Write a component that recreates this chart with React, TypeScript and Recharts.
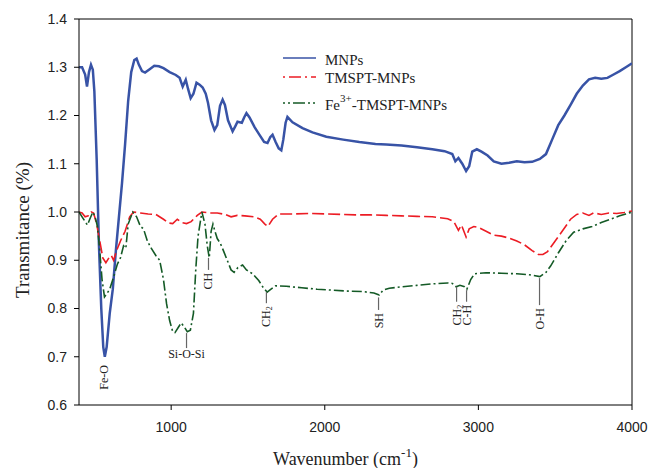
import React from 'react';
import { LineChart, Line, XAxis, YAxis, ReferenceLine, Legend } from 'recharts';

// FTIR spectra: wavenumber (cm-1) and transmittance for each sample
const mnpWavenumber = [
  400, 420, 440, 452, 465, 478, 490, 500, 515, 530, 545, 558, 568, 580, 600, 620, 640, 660, 680, 700,
  720, 740, 760, 775, 790, 810, 830, 860, 890, 920, 950, 990, 1030, 1055, 1075, 1095, 1110, 1127, 1145, 1165,
  1185, 1205, 1225, 1240, 1260, 1282, 1300, 1318, 1335, 1350, 1370, 1400, 1418, 1432, 1460, 1475, 1490, 1510, 1543, 1575,
  1605, 1627, 1645, 1660, 1680, 1700, 1717, 1730, 1745, 1757, 1790, 1855, 1920, 2010, 2120, 2225, 2330, 2400, 2500, 2600,
  2700, 2780, 2830, 2850, 2870, 2895, 2920, 2940, 2960, 2990, 3020, 3060, 3100, 3150, 3200, 3250, 3300, 3350, 3400, 3440,
  3480, 3520, 3560, 3600, 3640, 3680, 3720, 3760, 3800, 3840, 3880, 3920, 3960, 4000,
];
const mnpTransmittance = [
  1.300, 1.300, 1.285, 1.260, 1.290, 1.305, 1.295, 1.250, 1.110, 0.930, 0.800, 0.720, 0.700, 0.720, 0.790, 0.840, 0.920, 0.990, 1.060, 1.140,
  1.230, 1.290, 1.315, 1.318, 1.305, 1.292, 1.289, 1.296, 1.303, 1.302, 1.298, 1.290, 1.284, 1.278, 1.260, 1.274, 1.255, 1.236, 1.245, 1.268,
  1.264, 1.258, 1.245, 1.226, 1.190, 1.170, 1.180, 1.220, 1.233, 1.222, 1.190, 1.167, 1.178, 1.187, 1.185, 1.196, 1.205, 1.196, 1.176, 1.160,
  1.145, 1.143, 1.155, 1.160, 1.145, 1.132, 1.128, 1.150, 1.185, 1.197, 1.186, 1.174, 1.165, 1.156, 1.150, 1.145, 1.141, 1.140, 1.138, 1.134,
  1.130, 1.126, 1.120, 1.105, 1.112, 1.100, 1.085, 1.095, 1.125, 1.130, 1.125, 1.117, 1.105, 1.100, 1.102, 1.105, 1.103, 1.104, 1.110, 1.120,
  1.150, 1.180, 1.200, 1.222, 1.245, 1.262, 1.275, 1.278, 1.276, 1.278, 1.285, 1.292, 1.300, 1.308,
];

const tmsptWavenumber = [
  400, 420, 440, 460, 480, 495, 515, 535, 555, 575, 595, 610, 625, 645, 670, 700, 730, 755, 800, 850,
  900, 950, 985, 1010, 1040, 1070, 1100, 1130, 1170, 1200, 1250, 1300, 1350, 1390, 1430, 1480, 1540, 1580, 1610, 1630,
  1660, 1700, 1800, 1900, 2000, 2100, 2200, 2300, 2400, 2500, 2600, 2700, 2800, 2840, 2870, 2890, 2920, 2940, 2970, 3000,
  3050, 3100, 3150, 3200, 3250, 3300, 3350, 3390, 3420, 3450, 3500, 3550, 3600, 3640, 3680, 3720, 3750, 3800, 3850, 3900,
  3950, 4000,
];
const tmsptTransmittance = [
  1.000, 0.998, 0.990, 0.992, 1.000, 0.998, 0.975, 0.940, 0.905, 0.895, 0.905, 0.910, 0.900, 0.920, 0.940, 0.960, 0.990, 1.000, 0.998, 0.996,
  0.995, 0.985, 0.977, 0.976, 0.985, 0.978, 0.976, 0.980, 0.993, 1.000, 0.998, 0.998, 0.995, 0.990, 0.993, 0.992, 0.990, 0.985, 0.975, 0.970,
  0.985, 0.996, 0.996, 0.997, 0.996, 0.995, 0.994, 0.994, 0.993, 0.992, 0.991, 0.990, 0.986, 0.980, 0.962, 0.973, 0.948, 0.965, 0.970, 0.968,
  0.960, 0.952, 0.950, 0.946, 0.940, 0.932, 0.920, 0.912, 0.912, 0.918, 0.940, 0.962, 0.985, 0.995, 0.998, 0.993, 0.998, 0.995, 0.998, 0.997,
  0.999, 1.002,
];

const feWavenumber = [
  400, 420, 440, 455, 470, 490, 505, 520, 535, 550, 566, 580, 600, 625, 650, 670, 690, 705, 720, 750,
  775, 800, 820, 845, 870, 900, 925, 950, 970, 990, 1010, 1025, 1045, 1065, 1085, 1105, 1125, 1145, 1160, 1175,
  1200, 1220, 1235, 1248, 1260, 1272, 1285, 1300, 1320, 1340, 1365, 1390, 1410, 1435, 1465, 1490, 1530, 1570, 1600, 1625,
  1650, 1680, 1750, 1850, 1950, 2050, 2150, 2250, 2320, 2355, 2380, 2420, 2500, 2600, 2700, 2800, 2830, 2855, 2880, 2910,
  2925, 2950, 2975, 3050, 3150, 3250, 3330, 3400, 3440, 3470, 3520, 3570, 3620, 3680, 3740, 3800, 3860, 3920, 3960, 4000,
];
const feTransmittance = [
  1.000, 0.990, 0.980, 0.973, 0.985, 1.000, 0.990, 0.970, 0.920, 0.860, 0.824, 0.830, 0.840, 0.865, 0.892, 0.905, 0.930, 0.925, 0.975, 1.000,
  0.990, 0.970, 0.965, 0.940, 0.925, 0.910, 0.900, 0.860, 0.810, 0.775, 0.752, 0.750, 0.760, 0.770, 0.762, 0.752, 0.755, 0.790, 0.880, 0.950,
  1.000, 0.975, 0.930, 0.905, 0.960, 0.975, 0.960, 0.945, 0.935, 0.920, 0.900, 0.880, 0.875, 0.885, 0.890, 0.880, 0.872, 0.858, 0.843, 0.834,
  0.840, 0.847, 0.846, 0.843, 0.840, 0.838, 0.836, 0.835, 0.832, 0.828, 0.838, 0.842, 0.845, 0.848, 0.851, 0.853, 0.852, 0.845, 0.848, 0.845,
  0.840, 0.860, 0.872, 0.874, 0.873, 0.872, 0.870, 0.866, 0.875, 0.888, 0.915, 0.940, 0.958, 0.965, 0.970, 0.978, 0.985, 0.992, 0.996, 1.000,
];

const xTicks = [1000, 2000, 3000, 4000];
const yTicks = [0.6, 0.7, 0.8, 0.9, 1.0, 1.1, 1.2, 1.3, 1.4];

// band assignments: position, marker line top/bottom (transmittance)
const bandLabels = ['Fe-O', 'Si-O-Si', 'CH', 'CH2', 'SH', 'CH2', 'C-H', 'O-H'];
const bandWavenumber = [566, 1100, 1243, 1620, 2350, 2858, 2923, 3398];
const bandTop = [0.689, 0.749, 0.905, 0.834, 0.823, 0.845, 0.838, 0.863];
const bandBottom = [0.689, 0.718, 0.880, 0.811, 0.797, 0.814, 0.814, 0.807];

const BLUE = '#3853a6';
const RED = '#ec1c24';
const GREEN = '#145a26';
const SERIF = '"Liberation Serif", "Times New Roman", serif';
const SANS = '"Liberation Sans", Arial, sans-serif';

const toPoints = (xs: number[], ys: number[]) => xs.map((x, i) => ({ x, y: ys[i] }));
const mnpData = toPoints(mnpWavenumber, mnpTransmittance);
const tmsptData = toPoints(tmsptWavenumber, tmsptTransmittance);
const feData = toPoints(feWavenumber, feTransmittance);

const bandText = (name: string) =>
  name === 'CH2' ? (
    <>
      CH<tspan fontSize={8} dy={3}>2</tspan>
    </>
  ) : (
    name
  );

const renderBandLabel = (name: string) => (props: any) => {
  const vb = props.viewBox || {};
  const cx = vb.x + (vb.width || 0) / 2;
  const bottom = vb.y + (vb.height || 0);
  if (name === 'Si-O-Si') {
    return (
      <text x={cx} y={bottom + 10} textAnchor="middle" fontFamily={SERIF} fontSize={12} fill="#222">
        {name}
      </text>
    );
  }
  const ay = bottom + 3;
  return (
    <text
      x={cx}
      y={ay}
      transform={`rotate(-90 ${cx} ${ay})`}
      textAnchor="end"
      dominantBaseline="central"
      fontFamily={SERIF}
      fontSize={12}
      fill="#222"
    >
      {bandText(name)}
    </text>
  );
};

const renderLegend = () => (
  <svg width={210} height={70} style={{ display: 'block' }}>
    <line x1={3} x2={36} y1={10} y2={10} stroke={BLUE} strokeWidth={1.5} />
    <line x1={3} x2={36} y1={29} y2={29} stroke={RED} strokeWidth={1.5} strokeDasharray="2 4 12 4" />
    <line x1={3} x2={36} y1={55} y2={55} stroke={GREEN} strokeWidth={1.5} strokeDasharray="2 3 2 3 12 3" />
    <text x={45} y={17} fontFamily={SERIF} fontSize={15} fill="#222">MNPs</text>
    <text x={45} y={35} fontFamily={SERIF} fontSize={15} fill="#222">TMSPT-MNPs</text>
    <text x={45} y={62} fontFamily={SERIF} fontSize={15} fill="#222">
      Fe<tspan fontSize={11} dy={-8}>3+</tspan>
      <tspan dy={8}>-TMSPT-MNPs</tspan>
    </text>
  </svg>
);

const renderXLabel = (props: any) => {
  const vb = props.viewBox;
  const cx = vb.x + vb.width / 2 - 10;
  return (
    <text x={cx} y={vb.y + 60} textAnchor="middle" fontFamily={SERIF} fontSize={18} fill="#222">
      Wavenumber (cm<tspan fontSize={13} dy={-8}>-1</tspan>
      <tspan dy={8}>)</tspan>
    </text>
  );
};

const renderYLabel = (props: any) => {
  const vb = props.viewBox;
  const cx = 22;
  const cy = vb.y + vb.height / 2 + 18;
  return (
    <text
      x={cx}
      y={cy}
      transform={`rotate(-90 ${cx} ${cy})`}
      textAnchor="middle"
      dominantBaseline="central"
      fontFamily={SERIF}
      fontSize={19}
      fill="#222"
    >
      Transmitance (%)
    </text>
  );
};

export default function App() {
  return (
    <div style={{ position: 'absolute', left: 0, top: 0, background: '#fff' }}>
      <LineChart width={649} height={468} margin={{ top: 19, right: 17, left: 0, bottom: 0 }}>
        <XAxis
          dataKey="x"
          type="number"
          domain={[400, 4000]}
          ticks={xTicks}
          allowDataOverflow
          stroke="#000"
          tickSize={5}
          tickMargin={12}
          height={63}
          tick={{ fill: '#222', fontFamily: SANS, fontSize: 14 }}
          label={{ content: renderXLabel }}
        />
        <YAxis
          type="number"
          domain={[0.6, 1.4]}
          ticks={yTicks}
          allowDataOverflow
          stroke="#000"
          tickSize={5}
          tickMargin={7}
          width={79}
          tickFormatter={(v: number) => v.toFixed(1)}
          tick={{ fill: '#222', fontFamily: SANS, fontSize: 14 }}
          label={{ content: renderYLabel }}
        />
        <ReferenceLine y={1.4} stroke="#000" />
        <ReferenceLine x={4000} stroke="#000" />
        <Legend
          layout="vertical"
          align="center"
          verticalAlign="middle"
          content={renderLegend}
          wrapperStyle={{ left: 280, top: 48, width: 210 }}
        />
        <Line data={mnpData} dataKey="y" type="linear" stroke={BLUE} strokeWidth={2.5} dot={false} isAnimationActive={false} />
        <Line data={tmsptData} dataKey="y" type="linear" stroke={RED} strokeWidth={1.6} strokeDasharray="12 4" dot={false} isAnimationActive={false} />
        <Line data={feData} dataKey="y" type="linear" stroke={GREEN} strokeWidth={1.6} strokeDasharray="10 3 2 3" dot={false} isAnimationActive={false} />
        {bandLabels.map((name, i) => (
          <ReferenceLine
            key={`${name}-${i}`}
            segment={[
              { x: bandWavenumber[i], y: bandTop[i] },
              { x: bandWavenumber[i], y: bandBottom[i] },
            ]}
            stroke={bandTop[i] === bandBottom[i] ? 'none' : '#666'}
            strokeWidth={1.2}
            label={renderBandLabel(name)}
          />
        ))}
      </LineChart>
    </div>
  );
}
